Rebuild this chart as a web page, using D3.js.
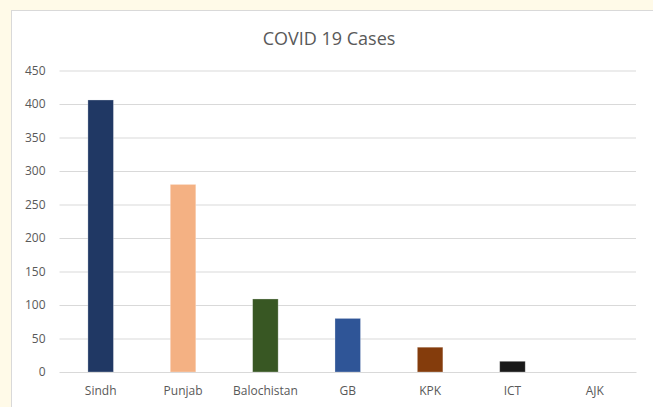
<!DOCTYPE html>
<html>
<head>
<meta charset="utf-8">
<script src="https://cdn.jsdelivr.net/npm/d3@7"></script>
<style>
  body { margin: 0; background: #fffae8; }
  svg { display: block; }
  text { font-family: "Open Sans", "Noto Sans", sans-serif; fill: #595959; }
</style>
</head>
<body>
<svg width="653" height="407"></svg>
<script>
// chart data
var provinces = ['Sindh', 'Punjab', 'Balochistan', 'GB', 'KPK', 'ICT', 'AJK'];
var cases = [406, 280, 109, 80, 37, 16, 0];
var barColors = ['#203864', '#f4b183', '#385723', '#2f5597', '#843c0c', '#191919', '#a5a5a5'];
var yTicks = [0, 50, 100, 150, 200, 250, 300, 350, 400, 450];

var width = 653, height = 407;
var margin = { top: 70.5, bottom: 35, left: 59.5, right: 17 };

var svg = d3.select('svg');

// white chart area with a light border
svg.append('rect')
    .attr('x', 11.5)
    .attr('y', 10.5)
    .attr('width', width)
    .attr('height', height)
    .attr('fill', '#fff')
    .attr('stroke', '#d9d9d9');

var xScale = d3.scaleBand()
    .domain(provinces)
    .range([margin.left, width - margin.right])
    .paddingInner(0.69)
    .paddingOuter(0.345);

var yScale = d3.scaleLinear()
    .domain([0, 450])
    .range([height - margin.bottom, margin.top]);

// gridlines + y labels
var yAxis = d3.axisLeft(yScale)
    .tickValues(yTicks)
    .tickSize(-(width - margin.right - margin.left))
    .tickPadding(14);

var gy = svg.append('g')
    .attr('transform', 'translate(' + [margin.left, 0] + ')')
    .call(yAxis);
gy.select('.domain').remove();
gy.selectAll('.tick line').attr('stroke', '#d9d9d9');
gy.selectAll('.tick text')
    .attr('font-size', 12)
    .attr('fill', '#595959');

// bars
svg.selectAll('rect.bar')
    .data(cases)
    .enter().append('rect')
    .attr('class', 'bar')
    .attr('x', (d, i) => xScale(provinces[i]))
    .attr('y', d => yScale(d))
    .attr('width', xScale.bandwidth())
    .attr('height', d => yScale(0) - yScale(d))
    .attr('fill', (d, i) => barColors[i])
    .attr('stroke', 'rgba(255,255,255,0.35)')
    .attr('stroke-width', 0.8);

// x axis
var xAxis = d3.axisBottom(xScale)
    .tickSize(0)
    .tickPadding(14);

var gx = svg.append('g')
    .attr('transform', 'translate(' + [0, height - margin.bottom] + ')')
    .call(xAxis);
gx.select('.domain').attr('stroke', '#d9d9d9');
gx.selectAll('.tick text')
    .attr('font-size', 12)
    .attr('fill', '#595959');

// title
svg.append('text')
    .attr('x', 329)
    .attr('y', 45)
    .attr('text-anchor', 'middle')
    .attr('font-size', 18)
    .attr('fill', '#595959')
    .text('COVID 19 Cases');
</script>
</body>
</html>
